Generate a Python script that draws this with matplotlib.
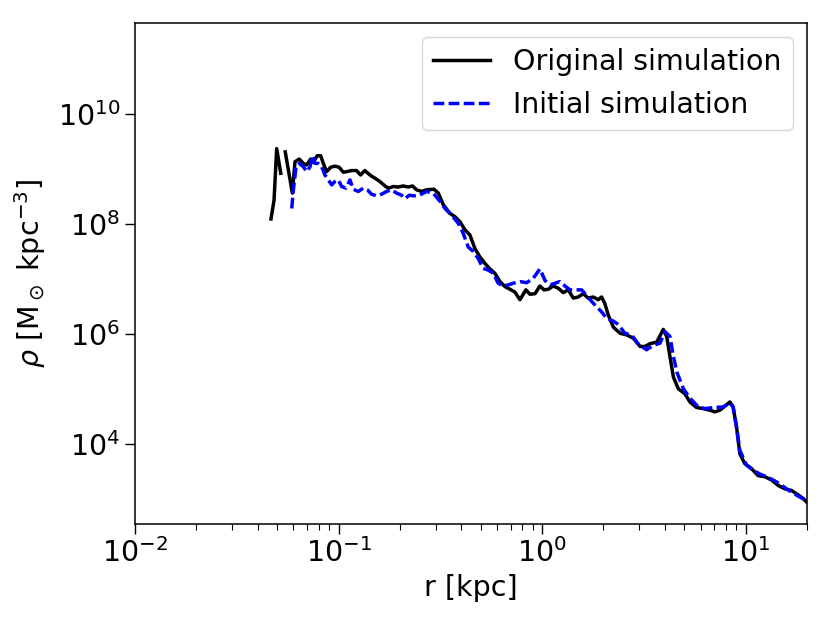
import numpy as np
import matplotlib
matplotlib.use("Agg")
import matplotlib.pyplot as plt

nan = np.nan

# log10 of r [kpc] and rho [Msun kpc^-3]
orig_log_r = [-1.332, -1.317, -1.304, -1.284, nan, -1.262, -1.227, -1.214, -1.193, -1.173,
              -1.157, -1.137, -1.124, -1.105, -1.088, -1.075, -1.059, -1.039, -1.018, -0.997,
              -0.977, -0.961, -0.936, -0.912, -0.892, -0.871, -0.846, -0.821, -0.797, -0.772,
              -0.756, -0.731, -0.707, -0.683, -0.658, -0.637, -0.617, -0.592, -0.567, -0.531,
              -0.510, -0.486, -0.453, -0.428, -0.404, -0.379, -0.355, -0.330, -0.306, -0.281,
              -0.256, -0.232, -0.207, -0.183, -0.158, -0.134, -0.109, -0.080, -0.060, -0.035,
              -0.011, 0.009, 0.030, 0.054, 0.079, 0.104, 0.128, 0.153, 0.177, 0.202,
              0.226, 0.251, 0.275, 0.292, 0.308, 0.325, 0.350, 0.383, 0.415, 0.448,
              0.481, 0.505, 0.530, 0.563, 0.595, 0.612, 0.628, 0.645, 0.669, 0.701,
              0.726, 0.758, 0.791, 0.824, 0.848, 0.873, 0.897, 0.922, 0.938, 0.955,
              0.971, 0.995, 1.028, 1.061, 1.094, 1.127, 1.160, 1.192, 1.225, 1.258,
              1.283, 1.299]
orig_log_rho = [8.09, 8.43, 9.37, 8.92, nan, 9.31, 8.56, 9.13, 9.18, 9.10,
                9.07, 9.18, 9.12, 9.24, 9.24, 9.10, 8.95, 9.03, 9.05, 9.03,
                8.94, 8.95, 8.97, 8.97, 8.89, 8.97, 8.89, 8.83, 8.77, 8.69,
                8.65, 8.68, 8.67, 8.69, 8.67, 8.69, 8.62, 8.59, 8.62, 8.63,
                8.56, 8.35, 8.19, 8.13, 8.04, 7.89, 7.80, 7.55, 7.40, 7.28,
                7.18, 7.10, 6.95, 6.86, 6.81, 6.76, 6.62, 6.80, 6.72, 6.73,
                6.87, 6.80, 6.81, 6.87, 6.83, 6.75, 6.80, 6.65, 6.67, 6.73,
                6.65, 6.67, 6.62, 6.67, 6.55, 6.34, 6.12, 6.01, 5.98, 5.92,
                5.77, 5.77, 5.82, 5.85, 6.08, 5.95, 5.58, 5.21, 5.00, 4.91,
                4.76, 4.66, 4.64, 4.61, 4.58, 4.61, 4.68, 4.76, 4.67, 4.30,
                3.82, 3.64, 3.55, 3.42, 3.40, 3.34, 3.24, 3.18, 3.15, 3.07,
                3.00, 2.94]

init_log_r = [-1.230, -1.222, -1.209, -1.193, -1.173, -1.157, -1.140, -1.128, -1.116, -1.100,
              -1.083, -1.067, -1.050, -1.034, -1.018, -1.001, -0.985, -0.964, -0.944, -0.928,
              -0.903, -0.879, -0.859, -0.838, -0.813, -0.789, -0.764, -0.740, -0.715, -0.690,
              -0.674, -0.653, -0.630, -0.604, -0.567, -0.535, -0.502, -0.477, -0.445, -0.412,
              -0.388, -0.363, -0.339, -0.314, -0.290, -0.265, -0.240, -0.216, -0.191, -0.167,
              -0.142, -0.109, -0.076, -0.044, -0.011, 0.014, 0.038, 0.063, 0.087, 0.112,
              0.137, 0.169, 0.194, 0.218, 0.243, 0.268, 0.292, 0.317, 0.350, 0.374,
              0.406, 0.439, 0.473, 0.513, 0.546, 0.579, 0.603, 0.628, 0.645, 0.664,
              0.694, 0.726, 0.767, 0.800, 0.848, 0.889, 0.922, 0.938, 0.955, 0.971,
              1.004, 1.036, 1.069, 1.102, 1.135, 1.168, 1.200, 1.233, 1.266, 1.299]
init_log_rho = [8.28, 8.62, 9.04, 9.10, 9.04, 8.95, 9.04, 9.23, 9.10, 9.10,
                9.04, 8.89, 8.80, 8.71, 8.77, 8.80, 8.68, 8.65, 8.80, 8.63,
                8.59, 8.65, 8.62, 8.54, 8.51, 8.54, 8.59, 8.62, 8.56, 8.52,
                8.46, 8.52, 8.51, 8.52, 8.59, 8.56, 8.41, 8.28, 8.16, 8.01,
                7.83, 7.58, 7.50, 7.37, 7.19, 7.16, 7.10, 6.92, 6.87, 6.89,
                6.92, 6.95, 6.93, 7.01, 7.18, 6.97, 6.89, 6.92, 6.95, 6.87,
                6.80, 6.80, 6.80, 6.70, 6.59, 6.49, 6.40, 6.28, 6.23, 6.17,
                6.01, 5.98, 5.81, 5.71, 5.79, 5.83, 6.04, 5.95, 5.58, 5.28,
                5.00, 4.83, 4.67, 4.64, 4.66, 4.67, 4.74, 4.67, 4.30, 3.88,
                3.61, 3.52, 3.45, 3.40, 3.34, 3.27, 3.18, 3.10, 3.03, 2.97]

fs = 20.5
plt.rcParams['font.size'] = fs

fig = plt.figure(figsize=(8.31, 6.17), dpi=100)
ax = fig.add_axes([135 / 831, 1 - 524 / 617, 672 / 831, 501.3 / 617])

ax.plot(10 ** np.array(orig_log_r), 10 ** np.array(orig_log_rho), color='black',
        lw=2.5, label='Original simulation')
ax.plot(10 ** np.array(init_log_r), 10 ** np.array(init_log_rho), color='blue',
        lw=2.5, linestyle=(0, (3.1, 1.25)), label='Initial simulation')

ax.set_xscale('log')
ax.set_yscale('log')
ax.set_xlim(1e-2, 20)
ax.set_ylim(10 ** 2.54, 10 ** 11.66)
ax.set_yticks([1e4, 1e6, 1e8, 1e10])
ax.tick_params(which='major', length=7, width=1, labelsize=fs)
ax.tick_params(which='minor', length=4, width=0.8)
for s in ax.spines.values():
    s.set_linewidth(1.1)

ax.set_xlabel('r [kpc]', fontsize=fs)
ax.set_ylabel(r'$\rho$ [M$_\odot$ kpc$^{-3}$]', fontsize=fs, labelpad=7)
ax.legend(loc='upper right', fontsize=fs)

fig.savefig('out.png', dpi=100)
